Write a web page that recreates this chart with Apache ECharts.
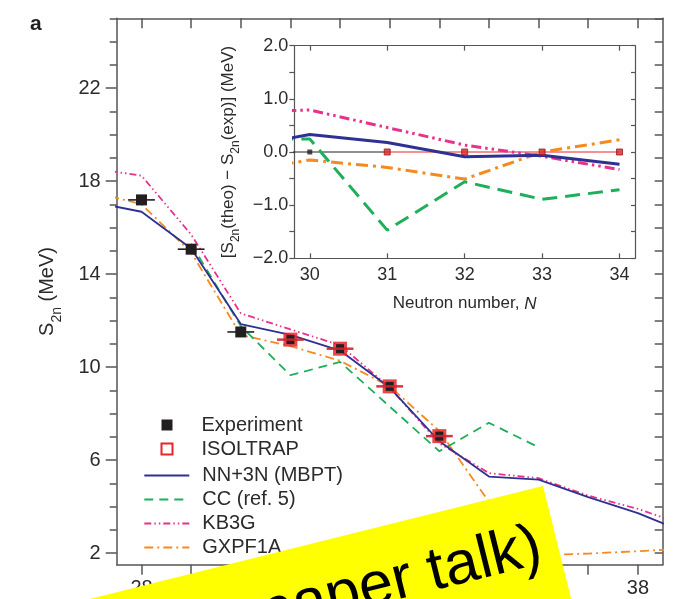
<!DOCTYPE html>
<html><head><meta charset="utf-8">
<script src="https://cdn.jsdelivr.net/npm/echarts@6/dist/echarts.min.js"></script>
<style>html,body{margin:0;padding:0;background:#fff}#c{width:676px;height:599px}</style>
</head><body><div id="c"></div>
<script>
// ---- data (main panel: S2n in MeV vs neutron number N) ----
const expN = [28, 29, 30];
const expS2n = [17.19, 15.07, 11.51];
const isoN = [31, 32, 33, 34];
const isoS2n = [11.18, 10.79, 9.17, 7.03];
const thN = [27, 28, 29, 30, 31, 32, 33, 34, 35, 36, 37, 38, 39];
const mbpt = [17.1, 16.68, 15.1, 11.85, 11.38, 10.71, 9.12, 6.81, 5.29, 5.16, 4.41, 3.72, 2.85];
const kb3g = [18.55, 18.23, 15.7, 12.31, 11.62, 10.94, 9.12, 6.72, 5.44, 5.22, 4.47, 3.9, 3.16];
const gxpf1a = [17.55, 17.0, 14.93, 11.38, 10.9, 10.27, 9.17, 7.25, 4.2, 1.9, 1.98, 2.08, 2.2];
const ccN = [29, 30, 31, 32, 33, 34, 35, 36];
const cc = [15.3, 11.76, 9.65, 10.22, 8.3, 6.38, 7.6, 6.55];
const mainXTicks = [28, 29, 30, 31, 32, 33, 34, 35, 36, 37, 38];
const mainXLabels = [28, 30, 32, 34, 36, 38];
const mainYTicks = [2,3,4,5,6,7,8,9,10,11,12,13,14,15,16,17,18,19,20,21,22,23,24,25];
const mainYLabels = [2, 6, 10, 14, 18, 22];
// ---- data (inset: S2n(theo) - S2n(exp) in MeV) ----
const devN = [29, 30, 31, 32, 33, 34];
const devMbpt = [0.06, 0.33, 0.18, -0.09, -0.06, -0.23];
const devKb3g = [0.74, 0.79, 0.46, 0.13, -0.08, -0.33];
const devGxpf1a = [-0.4, -0.15, -0.29, -0.51, 0.0, 0.23];
const devCc = [0.245, 0.245, -1.47, -0.56, -0.89, -0.71];
const zeroExpN = [29, 30, 31];
const zeroIsoN = [31, 32, 33, 34];
const insetExpPts = [30];
const insetIsoPts = [31, 32, 33, 34];
const insetXTicks = [30, 31, 32, 33, 34];
const insetYTicks = [-2, -1.5, -1, -0.5, 0, 0.5, 1, 1.5, 2];
const insetYLabels = [-2, -1, 0, 1, 2];

const BLUE = '#2e3192', GREEN = '#1fae5a', PINK = '#e7318b', ORANGE = '#f58a20', RED = '#e8262a';
const AX = '#555555', TXT = '#2b2b2b', FONT = 'Liberation Sans, Arial, sans-serif';
const BAR_HALF = 0.27;

const pairs = (xs, ys) => xs.map((x, i) => [x, ys[i]]);
const zeros = xs => xs.map(x => [x, 0]);
const fmtInset = v => (v < 0 ? '\u2212' : '') + Math.abs(v).toFixed(1);

function expRender(params, api) {
  const x = api.value(0), y = api.value(1);
  const c = api.coord([x, y]), l = api.coord([x - BAR_HALF, y]), r = api.coord([x + BAR_HALF, y]);
  return {type: 'group', children: [
    {type: 'line', shape: {x1: l[0], y1: l[1], x2: r[0], y2: r[1]}, style: {stroke: '#231f20', lineWidth: 1.6}},
    {type: 'rect', shape: {x: c[0] - 5.5, y: c[1] - 5.5, width: 11, height: 11}, style: {fill: '#231f20'}}
  ]};
}
function isoRender(params, api) {
  const x = api.value(0), y = api.value(1);
  const c = api.coord([x, y]), l = api.coord([x - BAR_HALF, y]), r = api.coord([x + BAR_HALF, y]);
  return {type: 'group', children: [
    {type: 'rect', shape: {x: c[0] - 7, y: c[1] - 7, width: 14, height: 14}, style: {fill: 'rgba(232,38,42,0.85)'}},
    {type: 'rect', shape: {x: c[0] - 4, y: c[1] - 4.5, width: 8, height: 9}, style: {fill: '#231f20'}},
    {type: 'line', shape: {x1: l[0], y1: l[1], x2: r[0], y2: r[1]}, style: {stroke: 'rgba(205,35,45,0.9)', lineWidth: 2.5}}
  ]};
}

const axLine = {show: true, onZero: false, lineStyle: {color: AX, width: 1.5}};
const axLineIn = {show: true, onZero: false, lineStyle: {color: AX, width: 1.2}};

const chart = echarts.init(document.getElementById('c'), null, {renderer: 'canvas'});
chart.setOption({
  animation: false,
  backgroundColor: '#fff',
  textStyle: {fontFamily: FONT},
  grid: [
    {left: 116.7, top: 18.3, right: 13.3, bottom: 34.3},
    {left: 294.3, top: 45.7, right: 41, bottom: 340.7}
  ],
  xAxis: [
    {gridIndex: 0, type: 'value', min: 27.5, max: 38.5, position: 'bottom', splitLine: {show: false},
     axisLine: axLine,
     axisTick: {customValues: mainXTicks, length: 10, lineStyle: {color: AX, width: 1.5}},
     axisLabel: {customValues: mainXLabels, fontSize: 20, color: TXT, margin: 14, fontFamily: FONT}},
    {gridIndex: 0, type: 'value', min: 27.5, max: 38.5, position: 'top', splitLine: {show: false},
     axisLine: axLine,
     axisTick: {customValues: mainXTicks, inside: true, length: 10, lineStyle: {color: AX, width: 1.5}},
     axisLabel: {show: false}},
    {gridIndex: 1, type: 'value', min: 29.8, max: 34.2, position: 'bottom', splitLine: {show: false},
     axisLine: axLineIn,
     axisTick: {customValues: insetXTicks, inside: true, length: 5, lineStyle: {color: AX, width: 1.2}},
     axisLabel: {customValues: insetXTicks, fontSize: 18, color: TXT, margin: 8, fontFamily: FONT},
     name: 'Neutron number, {it|N}', nameLocation: 'middle', nameGap: 37,
     nameTextStyle: {fontSize: 17, color: TXT, fontFamily: FONT,
       rich: {it: {fontSize: 17, fontStyle: 'italic', color: TXT, fontFamily: FONT}}}},
    {gridIndex: 1, type: 'value', min: 29.8, max: 34.2, position: 'top', splitLine: {show: false},
     axisLine: axLineIn,
     axisTick: {customValues: insetXTicks, inside: true, length: 5, lineStyle: {color: AX, width: 1.2}},
     axisLabel: {show: false}}
  ],
  yAxis: [
    {gridIndex: 0, type: 'value', min: 1.5, max: 25, position: 'left', splitLine: {show: false},
     axisLine: axLine,
     axisTick: {customValues: mainYTicks, length: 7, lineStyle: {color: AX, width: 1.5}},
     axisLabel: {customValues: mainYLabels, fontSize: 20, color: TXT, margin: 16, fontFamily: FONT},
     name: '{b|S}{sub|2n}{b| (MeV)}', nameLocation: 'middle', nameGap: 53,
     nameTextStyle: {color: TXT, fontFamily: FONT, rich: {
       b: {fontSize: 20, lineHeight: 20, verticalAlign: 'top', color: TXT, fontFamily: FONT},
       sub: {fontSize: 14, lineHeight: 26, verticalAlign: 'bottom', color: TXT, fontFamily: FONT}}}},
    {gridIndex: 0, type: 'value', min: 1.5, max: 25, position: 'left', splitLine: {show: false},
     axisLine: {show: false, onZero: false},
     axisTick: {customValues: mainYLabels, length: 11, lineStyle: {color: AX, width: 1.5}},
     axisLabel: {show: false}},
    {gridIndex: 0, type: 'value', min: 1.5, max: 25, position: 'right', splitLine: {show: false},
     axisLine: axLine,
     axisTick: {customValues: mainYTicks, inside: true, length: 8, lineStyle: {color: AX, width: 1.5}},
     axisLabel: {show: false}},
    {gridIndex: 1, type: 'value', min: -2, max: 2, position: 'left', splitLine: {show: false},
     axisLine: axLineIn,
     axisTick: {customValues: insetYTicks, length: 5, lineStyle: {color: AX, width: 1.2}},
     axisLabel: {customValues: insetYLabels, formatter: fmtInset, fontSize: 18, color: TXT, margin: 6, fontFamily: FONT},
     name: '{b|[S}{sub|2n}{b|(theo) \u2212 S}{sub|2n}{b|(exp)] (MeV)}', nameLocation: 'middle', nameGap: 40,
     nameTextStyle: {color: TXT, fontFamily: FONT, rich: {
       b: {fontSize: 17, lineHeight: 17, verticalAlign: 'top', color: TXT, fontFamily: FONT},
       sub: {fontSize: 12, lineHeight: 22, verticalAlign: 'bottom', color: TXT, fontFamily: FONT}}}},
    {gridIndex: 1, type: 'value', min: -2, max: 2, position: 'right', splitLine: {show: false},
     axisLine: axLineIn,
     axisTick: {customValues: insetYTicks, inside: true, length: 4, lineStyle: {color: AX, width: 1.2}},
     axisLabel: {show: false}}
  ],
  legend: [
    {orient: 'vertical', left: 155.5, top: 409, itemWidth: 11, itemHeight: 11, itemGap: 2,
     selectedMode: false,
     textStyle: {fontSize: 20, lineHeight: 22, color: TXT, fontFamily: FONT, padding: [0, 0, 0, 24]},
     data: [
       {name: 'Experiment', icon: 'rect', itemStyle: {color: '#231f20', borderWidth: 0}},
       {name: 'ISOLTRAP', icon: 'rect', itemStyle: {color: '#ffffff', borderColor: RED, borderWidth: 2}}
     ]},
    {orient: 'vertical', left: 138.3, top: 459.5, itemWidth: 45, itemHeight: 12, itemGap: 2,
     selectedMode: false, itemStyle: {opacity: 0},
     textStyle: {fontSize: 20, lineHeight: 22, color: TXT, fontFamily: FONT, padding: [0, 0, 0, 8]},
     data: ['NN+3N (MBPT)', 'CC (ref. 5)', 'KB3G', 'GXPF1A']}
  ],
  series: [
    {name: 'GXPF1A', type: 'line', xAxisIndex: 0, yAxisIndex: 0, data: pairs(thN, gxpf1a), symbol: 'none', z: 2,
     lineStyle: {color: ORANGE, width: 1.8, type: [9, 4, 2, 4]}, itemStyle: {color: ORANGE}},
    {name: 'CC (ref. 5)', type: 'line', xAxisIndex: 0, yAxisIndex: 0, data: pairs(ccN, cc), symbol: 'none', z: 2,
     lineStyle: {color: GREEN, width: 1.8, type: [9, 6]}, itemStyle: {color: GREEN}},
    {name: 'KB3G', type: 'line', xAxisIndex: 0, yAxisIndex: 0, data: pairs(thN, kb3g), symbol: 'none', z: 2,
     lineStyle: {color: PINK, width: 1.8, type: [7, 3, 1.5, 3, 1.5, 3]}, itemStyle: {color: PINK}},
    {name: 'NN+3N (MBPT)', type: 'line', xAxisIndex: 0, yAxisIndex: 0, data: pairs(thN, mbpt), symbol: 'none', z: 3,
     lineStyle: {color: BLUE, width: 1.8}, itemStyle: {color: BLUE}},
    {name: 'Experiment', type: 'custom', xAxisIndex: 0, yAxisIndex: 0, data: pairs(expN, expS2n),
     encode: {x: 0, y: 1}, renderItem: expRender, z: 5, itemStyle: {color: '#231f20'}},
    {name: 'ISOLTRAP', type: 'custom', xAxisIndex: 0, yAxisIndex: 0, data: pairs(isoN, isoS2n),
     encode: {x: 0, y: 1}, renderItem: isoRender, z: 6, itemStyle: {color: RED}},
    // inset
    {name: 'inset exp zero', type: 'line', xAxisIndex: 2, yAxisIndex: 3, data: zeros(zeroExpN), symbol: 'none', z: 2,
     lineStyle: {color: '#231f20', width: 1}},
    {name: 'inset iso zero', type: 'line', xAxisIndex: 2, yAxisIndex: 3, data: zeros(zeroIsoN), symbol: 'none', z: 2,
     lineStyle: {color: RED, width: 1.2}},
    {name: 'inset GXPF1A', type: 'line', xAxisIndex: 2, yAxisIndex: 3, data: pairs(devN, devGxpf1a), symbol: 'none', z: 3,
     lineStyle: {color: ORANGE, width: 3, type: [12, 5, 3, 5]}},
    {name: 'inset CC', type: 'line', xAxisIndex: 2, yAxisIndex: 3, data: pairs(devN, devCc), symbol: 'none', z: 3,
     lineStyle: {color: GREEN, width: 3, type: [15, 8]}},
    {name: 'inset KB3G', type: 'line', xAxisIndex: 2, yAxisIndex: 3, data: pairs(devN, devKb3g), symbol: 'none', z: 3,
     lineStyle: {color: PINK, width: 3, type: [10, 4, 2.5, 4, 2.5, 4]}},
    {name: 'inset MBPT', type: 'line', xAxisIndex: 2, yAxisIndex: 3, data: pairs(devN, devMbpt), symbol: 'none', z: 4,
     lineStyle: {color: BLUE, width: 3}},
    {name: 'inset exp pts', type: 'scatter', xAxisIndex: 2, yAxisIndex: 3, data: zeros(insetExpPts), symbol: 'rect', symbolSize: 5, z: 6,
     itemStyle: {color: '#231f20'}},
    {name: 'inset iso pts', type: 'scatter', xAxisIndex: 2, yAxisIndex: 3, data: zeros(insetIsoPts), symbol: 'rect', symbolSize: 6, z: 6,
     itemStyle: {color: '#d8262b', borderColor: '#9a1a1f', borderWidth: 1}}
  ],
  graphic: [
    {type: 'text', left: 30, top: 14, z: 50,
     style: {text: 'a', font: 'bold 21px Liberation Sans, Arial, sans-serif', fill: '#231f20'}},
    {type: 'group', x: 543, y: 486, rotation: 14 * Math.PI / 180, z: 100, children: [
      {type: 'rect', shape: {x: -800, y: 0, width: 800, height: 300}, style: {fill: '#ffff00'}, z: 100},
      {type: 'text', x: -17, y: 58, z: 101,
       style: {text: "(see Holt's paper talk)", font: '61px Liberation Sans, Arial, sans-serif', fill: '#000',
               textAlign: 'right', textVerticalAlign: 'middle'}}
    ]}
  ]
});
</script>
</body></html>
